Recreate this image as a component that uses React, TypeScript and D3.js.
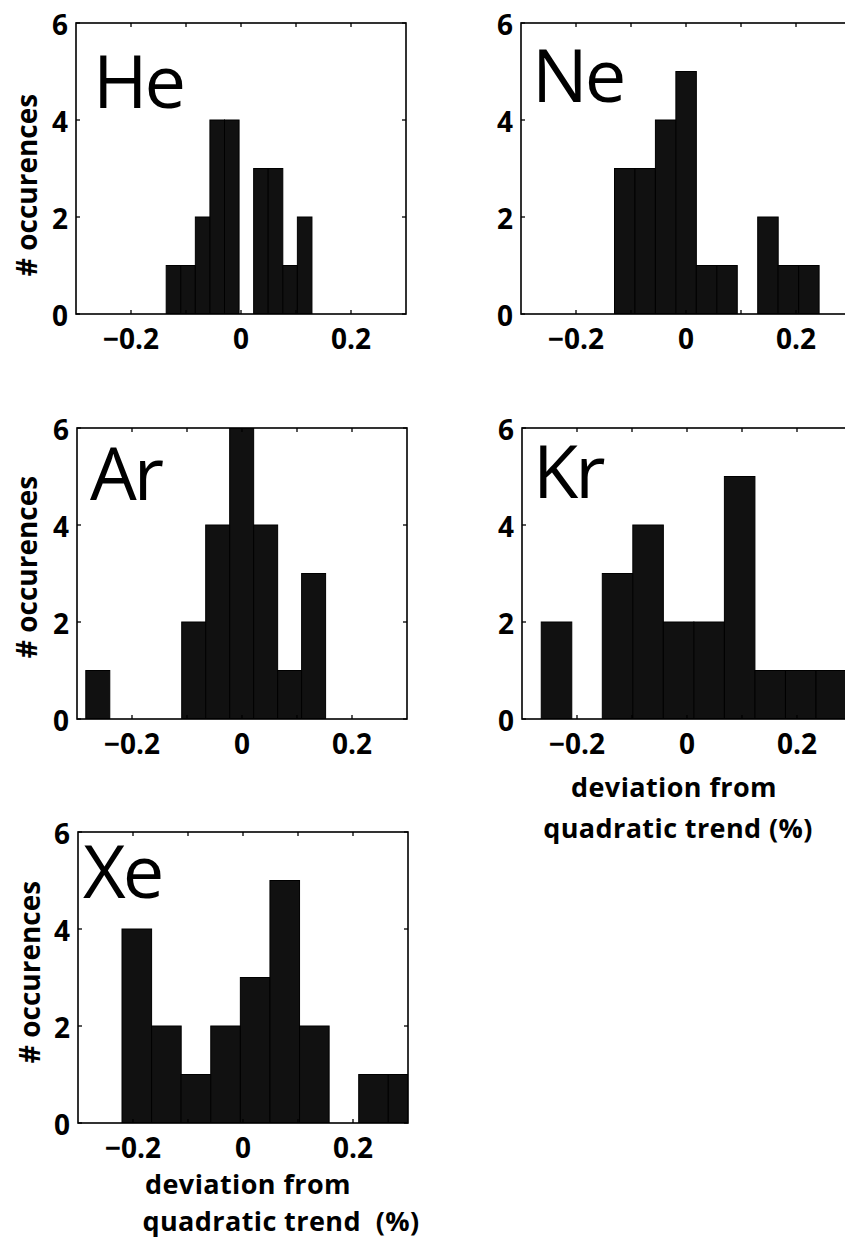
import React from "react";
import * as d3 from "d3";

// Histogram counts (10 bins each) of the deviation from the quadratic trend
const elementNames = ["He", "Ne", "Ar", "Kr", "Xe"];
const heCounts = [1, 1, 2, 4, 4, 0, 3, 3, 1, 2];
const neCounts = [3, 3, 4, 5, 1, 1, 0, 2, 1, 1];
const arCounts = [1, 0, 0, 0, 2, 4, 6, 4, 1, 3];
const krCounts = [2, 0, 3, 4, 2, 2, 5, 1, 1, 1];
const xeCounts = [4, 2, 1, 2, 3, 5, 2, 0, 1, 1];

// Smallest and largest deviation (%) per element; the bins span this range
const heRange = [-0.136, 0.129];
const neRange = [-0.130, 0.242];
const arRange = [-0.284, 0.152];
const krRange = [-0.265, 0.290];
const xeRange = [-0.220, 0.318];

const xDomain = [-0.3, 0.3];
const yDomain = [0, 6];
const xTickValues = [-0.2, -0.1, 0, 0.1, 0.2];
const xTickLabels: Record<string, string> = { "-0.2": "\u22120.2", "0": "0", "0.2": "0.2" };
const yTickValues = [0, 2, 4, 6];
const yAxisTitle = "# occurences";

const countsByElement = [heCounts, neCounts, arCounts, krCounts, xeCounts];
const rangeByElement = [heRange, neRange, arRange, krRange, xeRange];

// Panel placement on the page
const W = 330;
const H = 291;
const layout = [
  { left: 76, top: 23, nameDx: 17, nameDy: 85, yTitle: { x: 37, cy: 185 }, xTitle: null },
  { left: 521, top: 23, nameDx: 11, nameDy: 79, yTitle: null, xTitle: null },
  { left: 77, top: 428, nameDx: 13, nameDy: 72, yTitle: { x: 37, cy: 567 }, xTitle: null },
  {
    left: 522, top: 428, nameDx: 11, nameDy: 70, yTitle: null,
    xTitle: { lines: ["deviation from", "quadratic trend (%)"], cx: [674, 678], base: [797, 838] },
  },
  {
    left: 78, top: 832, nameDx: 5, nameDy: 66, yTitle: { x: 40, cy: 972 },
    xTitle: { lines: ["deviation from", "quadratic trend  (%)"], cx: [248, 281], base: [1194, 1231] },
  },
];

const FONT = "'Open Sans', 'DejaVu Sans', sans-serif";

function Panel({ idx }: { idx: number }) {
  const L = layout[idx];
  const counts = countsByElement[idx];
  const [lo, hi] = rangeByElement[idx];
  const x = d3.scaleLinear().domain(xDomain).range([L.left, L.left + W]);
  const y = d3.scaleLinear().domain(yDomain).range([L.top + H, L.top]);
  const edges = d3.range(counts.length + 1).map((i) => lo + ((hi - lo) * i) / counts.length);
  const bins = counts.map((c, i) => ({ x0: edges[i], x1: edges[i + 1], c }));
  const clipId = `clip-${elementNames[idx]}`;
  const tick = 4;
  const bottom = L.top + H;
  const right = L.left + W;

  return (
    <g>
      <defs>
        <clipPath id={clipId}>
          <rect x={L.left} y={L.top} width={W} height={H} />
        </clipPath>
      </defs>
      <g clipPath={`url(#${clipId})`}>
        {bins
          .filter((b) => b.c > 0)
          .map((b, i) => (
            <rect
              key={i}
              x={x(b.x0)}
              y={y(b.c)}
              width={x(b.x1) - x(b.x0)}
              height={y(0) - y(b.c)}
              fill="#111"
              stroke="#000"
              strokeWidth={1}
            />
          ))}
      </g>
      {/* axes box */}
      <rect x={L.left} y={L.top} width={W} height={H} fill="none" stroke="#000" strokeWidth={1.6} />
      {/* inward tick marks */}
      {xTickValues.map((v) => (
        <g key={`xt${v}`} stroke="#000" strokeWidth={1.3}>
          <line x1={x(v)} x2={x(v)} y1={bottom} y2={bottom - tick} />
          <line x1={x(v)} x2={x(v)} y1={L.top} y2={L.top + tick} />
        </g>
      ))}
      {yTickValues.map((v) => (
        <g key={`yt${v}`} stroke="#000" strokeWidth={1.3}>
          <line x1={L.left} x2={L.left + tick} y1={y(v)} y2={y(v)} />
          <line x1={right} x2={right - tick} y1={y(v)} y2={y(v)} />
        </g>
      ))}
      {/* tick labels */}
      {xTickValues
        .filter((v) => xTickLabels[String(v)] !== undefined)
        .map((v) => (
          <text
            key={`xl${v}`}
            x={x(v)}
            y={bottom + 35}
            textAnchor="middle"
            fontFamily={FONT}
            fontWeight={700}
            fontSize={28}
          >
            {xTickLabels[String(v)]}
          </text>
        ))}
      {yTickValues.map((v) => (
        <text
          key={`yl${v}`}
          x={L.left - 8}
          y={y(v) + 12}
          textAnchor="end"
          fontFamily={FONT}
          fontWeight={700}
          fontSize={28}
        >
          {v}
        </text>
      ))}
      {/* element name */}
      <text
        x={L.left + L.nameDx}
        y={L.top + L.nameDy}
        fontFamily={FONT}
        fontWeight={500}
        fontSize={74}
        letterSpacing={-3}
      >
        {elementNames[idx]}
      </text>
      {L.yTitle && (
        <text
          transform={`translate(${L.yTitle.x},${L.yTitle.cy}) rotate(-90)`}
          textAnchor="middle"
          fontFamily={FONT}
          fontWeight={700}
          fontSize={28}
        >
          {yAxisTitle}
        </text>
      )}
      {L.xTitle && (
        <text
          textAnchor="middle"
          fontFamily={FONT}
          fontWeight={700}
          fontSize={27}
          letterSpacing={0.4}
          style={{ whiteSpace: "pre" }}
        >
          {L.xTitle.lines.map((line, i) => (
            <tspan key={`xtitle${i}`} x={L.xTitle!.cx[i]} y={L.xTitle!.base[i]}>
              {line}
            </tspan>
          ))}
        </text>
      )}
    </g>
  );
}

export default function App() {
  return (
    <svg
      width={845}
      height={1243}
      viewBox="0 0 845 1243"
      style={{ position: "absolute", left: 0, top: 0, background: "#fff" }}
    >
      <rect x={0} y={0} width={845} height={1243} fill="#fff" />
      {elementNames.map((_, i) => (
        <Panel key={i} idx={i} />
      ))}
    </svg>
  );
}
